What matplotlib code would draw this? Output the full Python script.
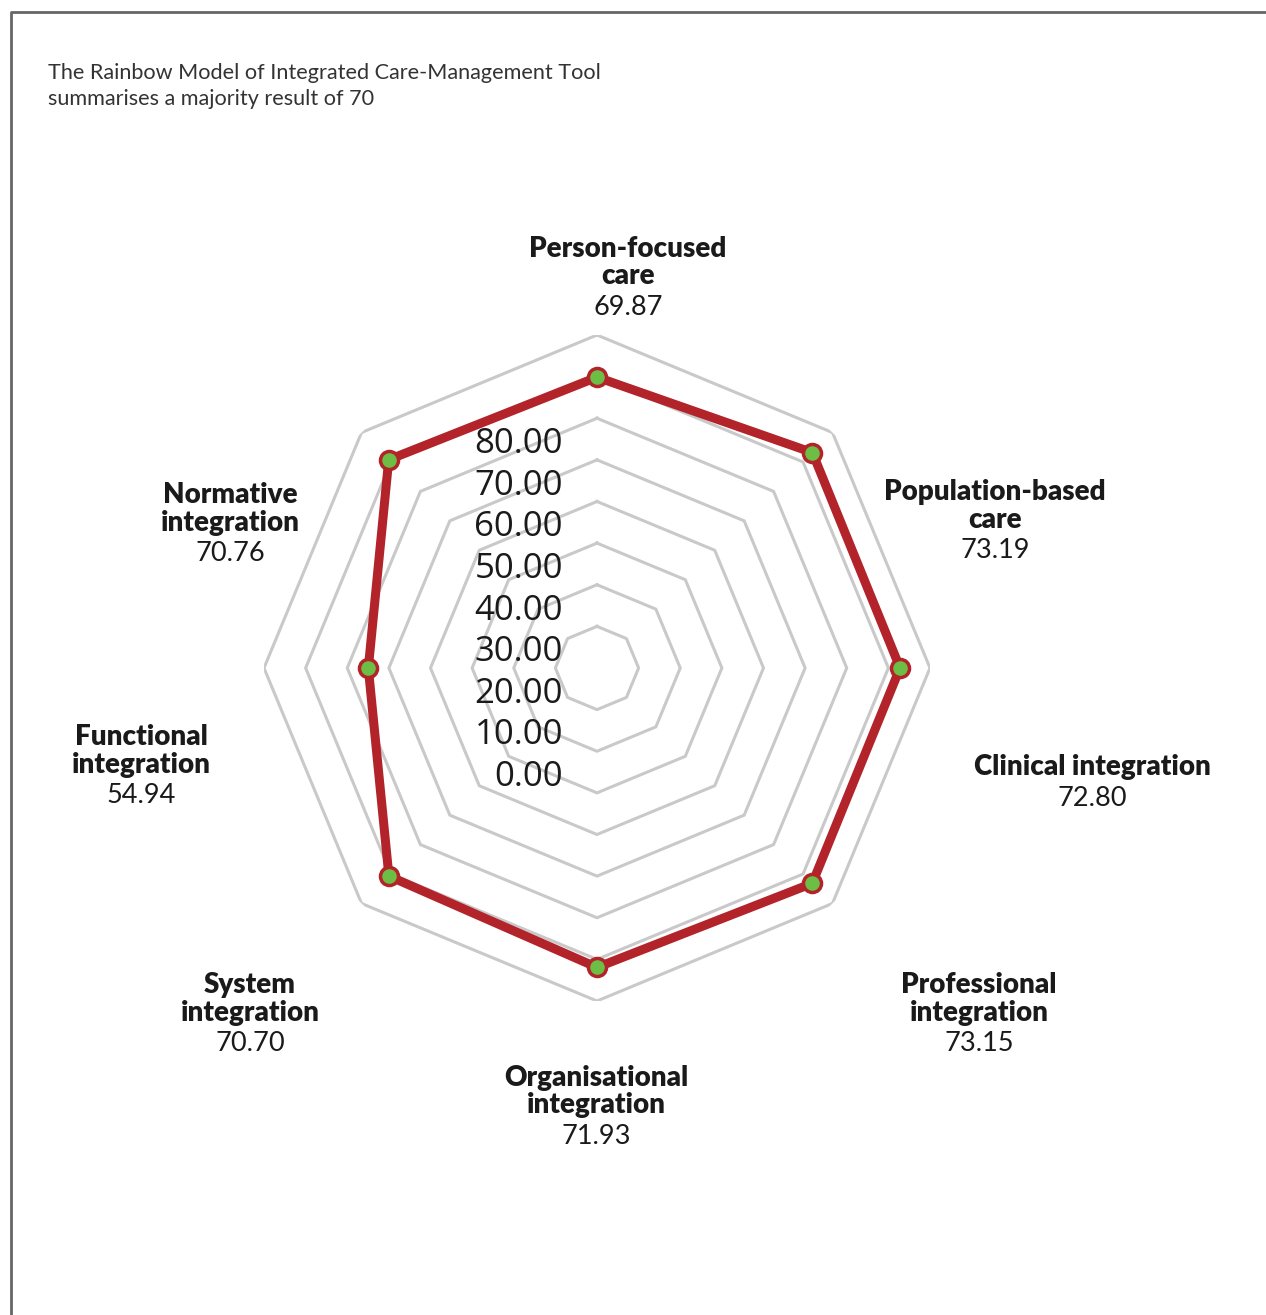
import matplotlib
matplotlib.use("Agg")
import matplotlib.pyplot as plt
from matplotlib.lines import Line2D
import numpy as np

# ─── Data ────────────────────────────────────────────────────────────────────
categories = [
    "Person-focused\ncare",
    "Population-based\ncare",
    "Clinical integration",
    "Professional\nintegration",
    "Organisational\nintegration",
    "System\nintegration",
    "Functional\nintegration",
    "Normative\nintegration",
]
scores = [69.87, 73.19, 72.80, 73.15, 71.93, 70.70, 54.94, 70.76]
grid_levels = [10, 20, 30, 40, 50, 60, 70, 80]
tick_labels = [0, 10, 20, 30, 40, 50, 60, 70, 80]

# label anchors in pixels (centre x, centre y of first line)
label_pos = [(628, 249), (995, 492), (1092, 767), (979, 985),
             (596, 1078), (250, 985), (141, 737), (230, 495)]

W, H = 1266, 1315
DARK = "#1a1a1a"
RED = "#B3242A"
GREEN = "#6DBE45"
GRID = "#C9C9C9"

fig = plt.figure(figsize=(W / 100, H / 100), dpi=100)
fig.patch.set_facecolor("white")

# frame (runs off the right and bottom edges)
fig.add_artist(Line2D([11 / W, 11 / W, 1.0], [0.0, 1 - 12 / H, 1 - 12 / H],
                      transform=fig.transFigure, color="#666666", lw=2))

for i, line in enumerate(["The Rainbow Model of Integrated Care-Management Tool",
                          "summarises a majority result of 70"]):
    fig.text(48 / W, 1 - (73 + 26 * i) / H, line, ha="left", va="center",
             fontsize=15.6, family="Lato", color="#333333")

# radar axes, centre (597, 668), radius 333 px
cx, cy, R = 597, 668, 333
ax = fig.add_axes([(cx - R) / W, 1 - (cy + R) / H, 2 * R / W, 2 * R / H],
                  projection="polar")
ax.set_theta_offset(np.pi / 2)
ax.set_theta_direction(-1)
ax.set_ylim(0, 80)
ax.grid(False)
ax.spines["polar"].set_visible(False)
ax.set_xticks([])
ax.set_yticks([])
ax.patch.set_alpha(0)

n = len(scores)
angles = np.linspace(0, 2 * np.pi, n, endpoint=False)
closed = np.append(angles, angles[0])

for lvl in grid_levels:
    ax.plot(closed, [lvl] * (n + 1), color=GRID, lw=2.2, zorder=1)

vals = scores + scores[:1]
ax.plot(closed, vals, color=RED, lw=6.5, zorder=3, solid_joinstyle="miter")
ax.plot(angles, scores, ls="none", marker="o", ms=13, mfc=GREEN,
        mec=RED, mew=2.5, zorder=4)

# value-axis labels (stacked left of the centre)
for t in tick_labels:
    y = 777 - t * 4.16
    fig.text(563 / W, 1 - y / H, f"{t:.2f}", ha="right", va="center",
             fontsize=25, family="Open Sans", color=DARK)

# category labels
for (x, y), lab, v in zip(label_pos, categories, scores):
    parts = lab.split("\n")
    for k, p in enumerate(parts):
        fig.text(x / W, 1 - (y + 27.5 * k) / H, p, ha="center", va="center",
                 fontsize=20, family="Lato", fontweight="heavy", color=DARK)
    fig.text(x / W, 1 - (y + 27.5 * (len(parts) - 1) + 31) / H, f"{v:.2f}",
             ha="center", va="center", fontsize=19.5, family="Lato", color=DARK)

fig.savefig("out.png", dpi=100, facecolor="white")
